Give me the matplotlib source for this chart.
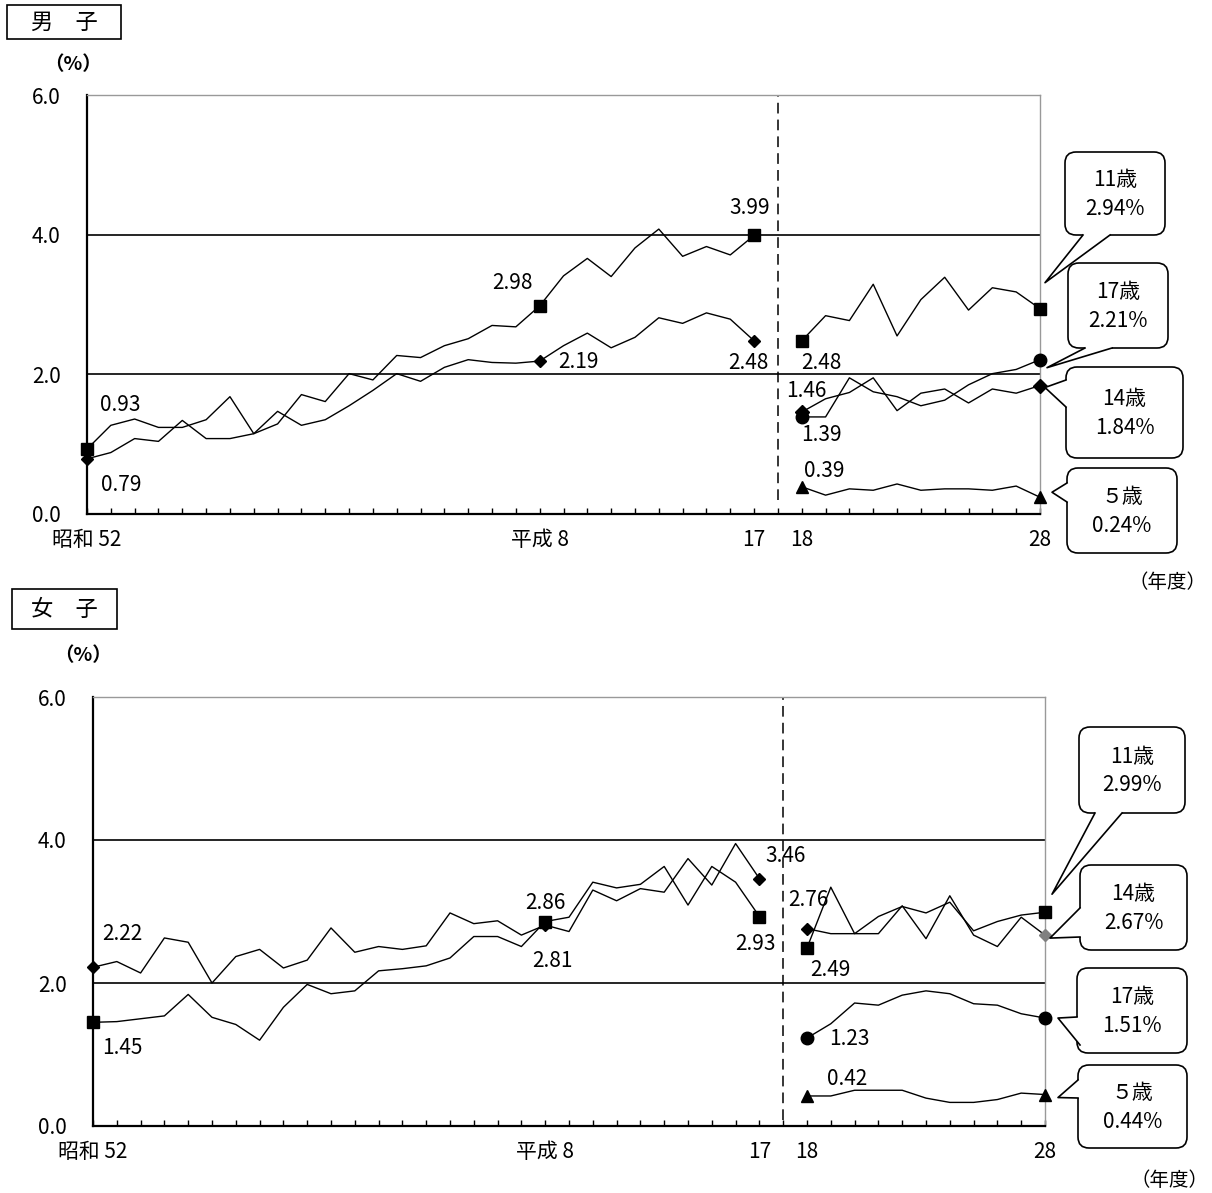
"""う歯（むし歯）の被患率の推移 — 男子・女子の2段グラフ"""

import matplotlib
matplotlib.use('Agg')
import matplotlib.pyplot as plt
from matplotlib.patches import FancyBboxPatch, Polygon, Rectangle
import numpy as np

plt.rcParams['font.family'] = ['Noto Sans CJK JP', 'DejaVu Sans']

W, H = 1212, 1193

# 年度：昭和52～平成17（前半）、平成18～28（後半）
years_a = list(range(1977, 2006))
years_b = list(range(2006, 2017))
tick_pos = [0, 19, 28, 30, 40]
tick_labels = ['昭和 52', '平成 8', '17', '18', '28']

# 男子（%）
m11_a = [0.93, 1.27, 1.36, 1.24, 1.24, 1.35, 1.68, 1.15, 1.29, 1.71, 1.61, 2.01, 1.92, 2.27,
         2.24, 2.41, 2.51, 2.70, 2.68, 2.98, 3.41, 3.66, 3.40, 3.81, 4.08, 3.69, 3.83, 3.71, 3.99]
m14_a = [0.79, 0.88, 1.08, 1.04, 1.34, 1.08, 1.08, 1.15, 1.47, 1.27, 1.35, 1.55, 1.77, 2.01,
         1.90, 2.10, 2.21, 2.17, 2.16, 2.19, 2.41, 2.59, 2.38, 2.53, 2.81, 2.73, 2.88, 2.79, 2.48]
m05_b = [0.39, 0.27, 0.36, 0.34, 0.43, 0.34, 0.36, 0.36, 0.34, 0.40, 0.24]
m11_b = [2.48, 2.84, 2.77, 3.29, 2.55, 3.07, 3.39, 2.92, 3.24, 3.18, 2.94]
m14_b = [1.46, 1.65, 1.74, 1.95, 1.48, 1.73, 1.79, 1.59, 1.79, 1.73, 1.84]
m17_b = [1.39, 1.39, 1.95, 1.75, 1.68, 1.55, 1.63, 1.85, 2.01, 2.07, 2.21]

# 女子（%）
f11_a = [1.45, 1.46, 1.50, 1.54, 1.84, 1.52, 1.42, 1.20, 1.66, 1.98, 1.85, 1.89, 2.17, 2.20,
         2.24, 2.35, 2.65, 2.65, 2.51, 2.86, 2.92, 3.41, 3.33, 3.38, 3.63, 3.09, 3.63, 3.41, 2.93]
f14_a = [2.22, 2.30, 2.14, 2.63, 2.57, 2.00, 2.37, 2.47, 2.21, 2.32, 2.77, 2.43, 2.51, 2.47,
         2.52, 2.98, 2.83, 2.87, 2.67, 2.81, 2.72, 3.30, 3.15, 3.32, 3.27, 3.74, 3.37, 3.95, 3.46]
f05_b = [0.42, 0.42, 0.50, 0.50, 0.50, 0.39, 0.33, 0.33, 0.37, 0.46, 0.44]
f11_b = [2.49, 3.34, 2.69, 2.93, 3.07, 2.98, 3.13, 2.73, 2.86, 2.95, 2.99]
f14_b = [2.76, 2.69, 2.69, 2.69, 3.08, 2.62, 3.22, 2.67, 2.51, 2.92, 2.67]
f17_b = [1.23, 1.43, 1.72, 1.69, 1.83, 1.89, 1.85, 1.71, 1.69, 1.57, 1.51]

x_a = np.arange(len(years_a))
x_b = np.arange(len(years_b)) + len(years_a) + 1
x_break = len(years_a)
mark_a = [0, 19, 28]
mark_b = [0, 10]

fig = plt.figure(figsize=(W / 100, H / 100), dpi=100)


def px_axes(left, top, right, bottom):
    return fig.add_axes([left / W, 1 - bottom / H, (right - left) / W, (bottom - top) / H])


def setup_axes(ax, dash_bottom):
    ax.set_xlim(0, 40)
    ax.set_ylim(0, 6)
    ax.set_yticks([0, 2, 4, 6])
    ax.set_yticklabels(['0.0', '2.0', '4.0', '6.0'], fontsize=15)
    ax.tick_params(axis='y', length=0, pad=19)
    ax.set_xticks(tick_pos)
    ax.set_xticklabels(tick_labels, fontsize=15)
    ax.set_xticks(np.arange(0, 41), minor=True)
    ax.tick_params(axis='x', which='both', direction='in', length=4, width=1, pad=11)
    for y in (2, 4):
        ax.axhline(y, color='black', lw=1.2, zorder=1)
    ax.spines['left'].set_linewidth(1.6)
    ax.spines['bottom'].set_linewidth(1.6)
    for s in ('top', 'right'):
        ax.spines[s].set_color('#999999')
        ax.spines[s].set_linewidth(1.0)
    ax.plot([x_break, x_break], [dash_bottom, 6], color='black', lw=1.1,
            dashes=(7, 4), zorder=2)


def line(ax, x, y, marker, ms, marks, color='black'):
    ax.plot(x, y, color='black', lw=1.0, zorder=3)
    ax.plot([x[i] for i in marks], [y[i] for i in marks], linestyle='none',
            marker=marker, ms=ms, color=color, zorder=4, clip_on=False)


def label(ax, x, y, text, dx, dy):
    ax.annotate(text, (x, y), xytext=(dx, dy), textcoords='offset pixels',
                ha='center', va='center', fontsize=15)


# ---- 男子 ----
ax1 = px_axes(87, 95, 1040, 514)
setup_axes(ax1, 0.2)
line(ax1, x_a, m11_a, 's', 9, mark_a)
line(ax1, x_a, m14_a, 'D', 6, mark_a)
line(ax1, x_b, m11_b, 's', 9, mark_b)
line(ax1, x_b, m14_b, 'D', 7, mark_b)
line(ax1, x_b, m17_b, 'o', 9, mark_b)
line(ax1, x_b, m05_b, '^', 8, mark_b)

label(ax1, x_a[0], m11_a[0], '0.93', 33, 44)
label(ax1, x_a[0], m14_a[0], '0.79', 34, -26)
label(ax1, x_a[19], m11_a[19], '2.98', -27, 23)
label(ax1, x_a[19], m14_a[19], '2.19', 39, -1)
label(ax1, x_a[28], m11_a[28], '3.99', -4, 27)
label(ax1, x_a[28], m14_a[28], '2.48', -6, -22)
label(ax1, x_b[0], m11_b[0], '2.48', 20, -22)
label(ax1, x_b[0], m14_b[0], '1.46', 5, 21)
label(ax1, x_b[0], m17_b[0], '1.39', 20, -18)
label(ax1, x_b[0], m05_b[0], '0.39', 22, 16)

# ---- 女子 ----
ax2 = px_axes(93, 697, 1045, 1126)
setup_axes(ax2, 0.08)
line(ax2, x_a, f11_a, 's', 9, mark_a)
line(ax2, x_a, f14_a, 'D', 6, mark_a)
line(ax2, x_b, f11_b, 's', 9, mark_b)
line(ax2, x_b, f14_b, 'D', 6, [0])
ax2.plot(x_b[-1], f14_b[-1], marker='D', ms=6, color='#808080', zorder=4, clip_on=False)
line(ax2, x_b, f17_b, 'o', 9, mark_b)
line(ax2, x_b, f05_b, '^', 8, mark_b)

label(ax2, x_a[0], f14_a[0], '2.22', 29, 33)
label(ax2, x_a[0], f11_a[0], '1.45', 29, -26)
label(ax2, x_a[19], f11_a[19], '2.86', 0, 19)
label(ax2, x_a[19], f14_a[19], '2.81', 7, -36)
label(ax2, x_a[28], f11_a[28], '2.93', -4, -27)
label(ax2, x_a[28], f14_a[28], '3.46', 26, 23)
label(ax2, x_b[0], f14_b[0], '2.76', 1, 29)
label(ax2, x_b[0], f11_b[0], '2.49', 23, -22)
label(ax2, x_b[0], f17_b[0], '1.23', 42, -1)
label(ax2, x_b[0], f05_b[0], '0.42', 40, 17)

# ---- 吹き出し・見出し（ピクセル座標のオーバーレイ） ----
ov = fig.add_axes([0, 0, 1, 1])
ov.set_xlim(0, W)
ov.set_ylim(H, 0)
ov.axis('off')


def to_px(ax, x, y):
    dx, dy = ax.transData.transform((x, y))
    return dx, H - dy


def callout(ax, x, y, off, box, base, side, text):
    x0, y0, x1, y1 = box
    tx, ty = to_px(ax, x, y)
    tip = (tx + off[0], ty + off[1])
    ov.add_patch(FancyBboxPatch((x0, y0), x1 - x0, y1 - y0,
                                boxstyle='round,pad=0,rounding_size=11',
                                fc='white', ec='black', lw=1.2, zorder=3))
    if side == 'bottom':
        inner = [(base[1][0], base[1][1] - 4), (base[0][0], base[0][1] - 4)]
    else:
        inner = [(base[1][0] + 4, base[1][1]), (base[0][0] + 4, base[0][1])]
    ov.add_patch(Polygon([base[0], tip, base[1]] + inner, closed=True,
                         fc='white', ec='none', zorder=4))
    ov.plot([base[0][0], tip[0], base[1][0]], [base[0][1], tip[1], base[1][1]],
            color='black', lw=1.2, zorder=5)
    ov.text((x0 + x1) / 2, (y0 + y1) / 2 + 1, text, ha='center', va='center',
            fontsize=15, linespacing=1.4, zorder=6)


xe = x_b[-1]
callout(ax1, xe, m11_b[-1], (5, -26), (1065, 152, 1165, 235),
        [(1083, 235), (1110, 235)], 'bottom', '11歳\n2.94%')
callout(ax1, xe, m17_b[-1], (7, 8), (1068, 263, 1168, 348),
        [(1085, 348), (1112, 348)], 'bottom', '17歳\n2.21%')
callout(ax1, xe, m14_b[-1], (5, 2), (1066, 367, 1183, 458),
        [(1066, 380), (1066, 407)], 'left', '14歳\n1.84%')
callout(ax1, xe, m05_b[-1], (12, -5), (1067, 468, 1177, 553),
        [(1067, 483), (1067, 502)], 'left', '５歳\n0.24%')

callout(ax2, xe, f11_b[-1], (7, -18), (1079, 727, 1185, 813),
        [(1095, 813), (1122, 813)], 'bottom', '11歳\n2.99%')
callout(ax2, xe, f14_b[-1], (5, 3), (1080, 865, 1187, 950),
        [(1080, 908), (1080, 937)], 'left', '14歳\n2.67%')
callout(ax2, xe, f17_b[-1], (13, 0), (1077, 968, 1187, 1053),
        [(1077, 1017), (1080, 1045)], 'left', '17歳\n1.51%')
callout(ax2, xe, f05_b[-1], (13, 3), (1078, 1065, 1187, 1148),
        [(1078, 1080), (1078, 1098)], 'left', '５歳\n0.44%')

# 見出しボックス
for (x0, y0, x1, y1), title in [((7, 5, 121, 39), '男　子'), ((12, 589, 117, 629), '女　子')]:
    ov.add_patch(Rectangle((x0, y0), x1 - x0, y1 - y0, fc='white', ec='black', lw=1.2))
    ov.text((x0 + x1) / 2, (y0 + y1) / 2, title, ha='center', va='center', fontsize=16)

ov.text(73, 65, '（%）', ha='center', va='center', fontsize=14, fontweight='bold')
ov.text(83, 656, '（%）', ha='center', va='center', fontsize=14, fontweight='bold')
ov.text(1168, 582, '（年度）', ha='center', va='center', fontsize=14)
ov.text(1170, 1181, '（年度）', ha='center', va='center', fontsize=14)

fig.savefig('out.png', dpi=100)
